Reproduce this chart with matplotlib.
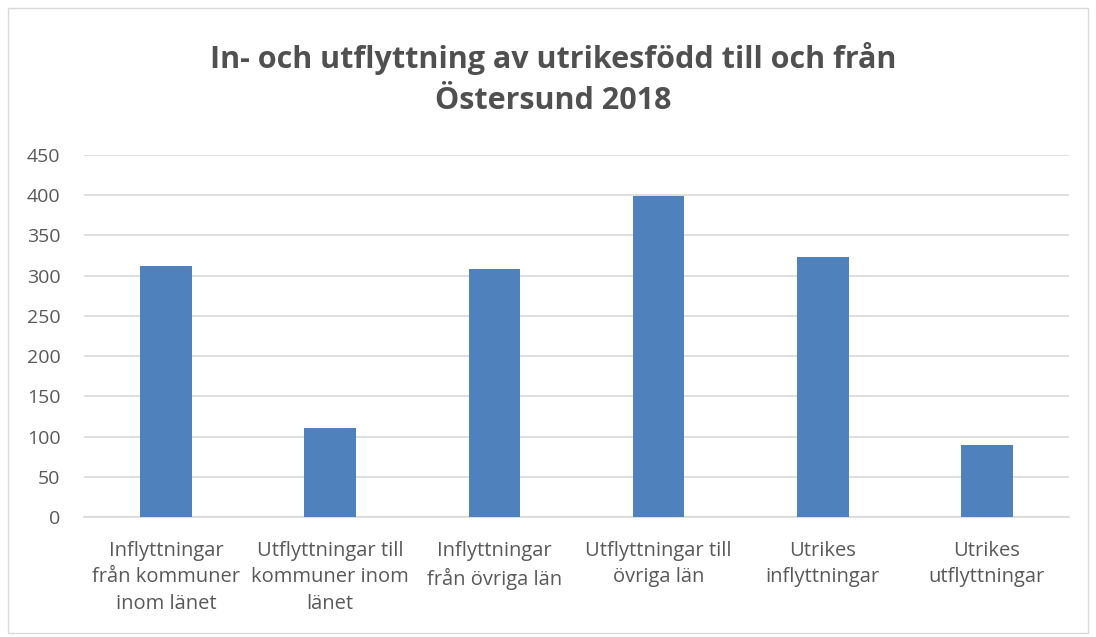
import matplotlib.pyplot as plt
from matplotlib.patches import Rectangle

# data
kategorier = ['Inflyttningar\nfrån kommuner\ninom länet',
              'Utflyttningar till\nkommuner inom\nlänet',
              'Inflyttningar\nfrån övriga län',
              'Utflyttningar till\növriga län',
              'Utrikes\ninflyttningar',
              'Utrikes\nutflyttningar']
antal = [312, 111, 308, 399, 323, 89]
y_ticks = [0, 50, 100, 150, 200, 250, 300, 350, 400, 450]

plt.rcParams['font.family'] = ['Open Sans', 'DejaVu Sans']

fig = plt.figure(figsize=(10.96, 6.37), dpi=100, facecolor='white')
ax = fig.add_axes([84/1096, 1 - 517/637, (1069-84)/1096, (517-155)/637])

ax.bar(range(len(antal)), antal, width=0.315, color='#4f81bd', zorder=3)

ax.set_xlim(-0.5, len(antal) - 0.5)
ax.set_ylim(0, 450)
ax.set_yticks(y_ticks)
ax.set_xticks(range(len(kategorier)))
ax.set_xticklabels(kategorier, fontsize=14.5, color='#595959', linespacing=1.45)
ax.tick_params(axis='y', labelsize=14, labelcolor='#595959', length=0, pad=17)
ax.tick_params(axis='x', length=0, pad=17)
ax.grid(axis='y', color='#d9d9d9', linewidth=1.2, zorder=0)
for s in ['top', 'right', 'left']:
    ax.spines[s].set_visible(False)
ax.spines['bottom'].set_color('#d9d9d9')
ax.spines['bottom'].set_linewidth(1.2)

fig.text(553/1096, 1 - 79/637, 'In- och utflyttning av utrikesfödd till och från\nÖstersund 2018',
         ha='center', va='center', fontsize=22, fontweight='bold', color='#505050', linespacing=1.5)

# ram runt diagrammet
fig.patches.append(Rectangle((8/1096, 4/637), 1080/1096, 625/637, transform=fig.transFigure,
                             fill=False, edgecolor='#d9d9d9', linewidth=1))

fig.savefig('out.png', dpi=100)
